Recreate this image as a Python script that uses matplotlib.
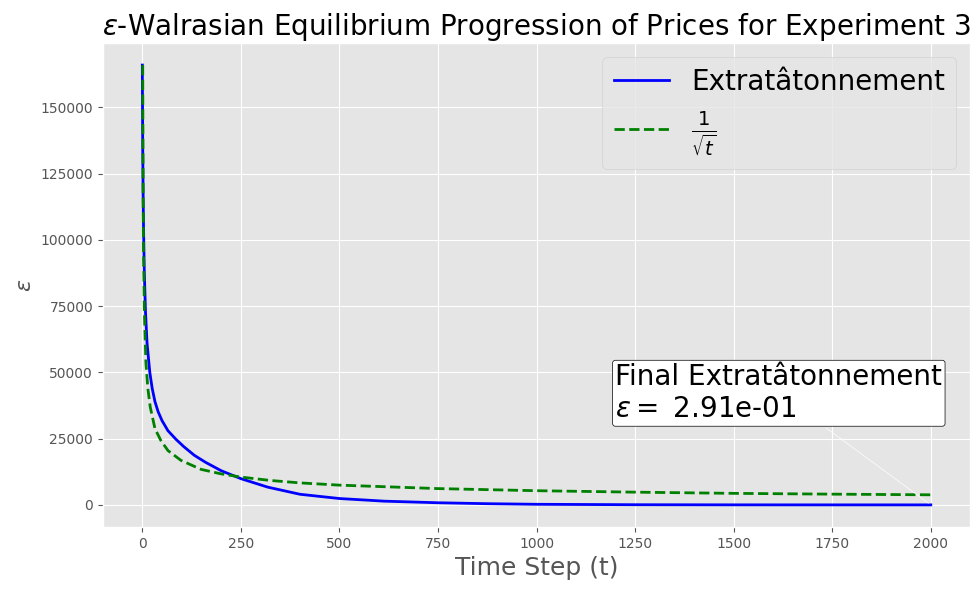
import matplotlib
matplotlib.use("Agg")
import matplotlib.pyplot as plt

plt.style.use('ggplot')

# Extratatonnement epsilon over time
extra_t = [0, 1, 2, 3, 5, 8, 12, 19, 25, 32, 40, 50, 65, 85, 105, 132, 160,
           200, 250, 318, 400, 500, 614, 750, 875, 1000, 1250, 1500, 1750, 2000]
extra_eps = [166000, 135000, 118000, 105000, 88000, 73000, 61000, 50000, 44000,
             39000, 35200, 31800, 28000, 24800, 22000, 18700, 16100, 12900,
             9900, 6700, 4000, 2400, 1400, 800, 450, 220, 60, 15, 3, 0.291]

# 1/sqrt(t) reference curve (scaled)
ref_t = [1, 2, 3, 5, 9, 14, 20, 32, 47, 65, 98, 149, 200, 250, 326, 400, 500,
         750, 1000, 1250, 1500, 1750, 2000]
ref_eps = [166000, 118000, 96000, 74000, 54000, 44000, 37000, 28800, 24300,
           20500, 16800, 13400, 11700, 10500, 9200, 8300, 7450, 6150, 5350,
           4800, 4350, 4050, 3800]

final_eps = extra_eps[-1]

fig, ax = plt.subplots(figsize=(9.8, 5.9), dpi=100)
fig.subplots_adjust(left=0.105, right=0.99, top=0.927, bottom=0.107)

ax.plot(extra_t, extra_eps, color='blue', linewidth=2, label='Extratâtonnement')
ax.plot(ref_t, ref_eps, color='green', linewidth=2, linestyle='--',
        label=r'$\frac{1}{\sqrt{t}}$')

ax.annotate('Final Extratâtonnement\n' + r'$\epsilon = $ ' + '{:.2e}'.format(final_eps),
            xy=(extra_t[-1], final_eps), xytext=(1200, 33000), fontsize=20,
            bbox=dict(boxstyle='round,pad=0.1', fc='white', ec='black'),
            arrowprops=dict(arrowstyle='-', color='white', lw=0.5))

ax.set_title(r'$\epsilon$-Walrasian Equilibrium Progression of Prices for Experiment 3',
             fontsize=20)
ax.set_xlabel('Time Step (t)', fontsize=18)
ax.set_ylabel(r'$\epsilon$', fontsize=16)
ax.legend(loc='upper right', fontsize=20)

plt.savefig('out.png')
